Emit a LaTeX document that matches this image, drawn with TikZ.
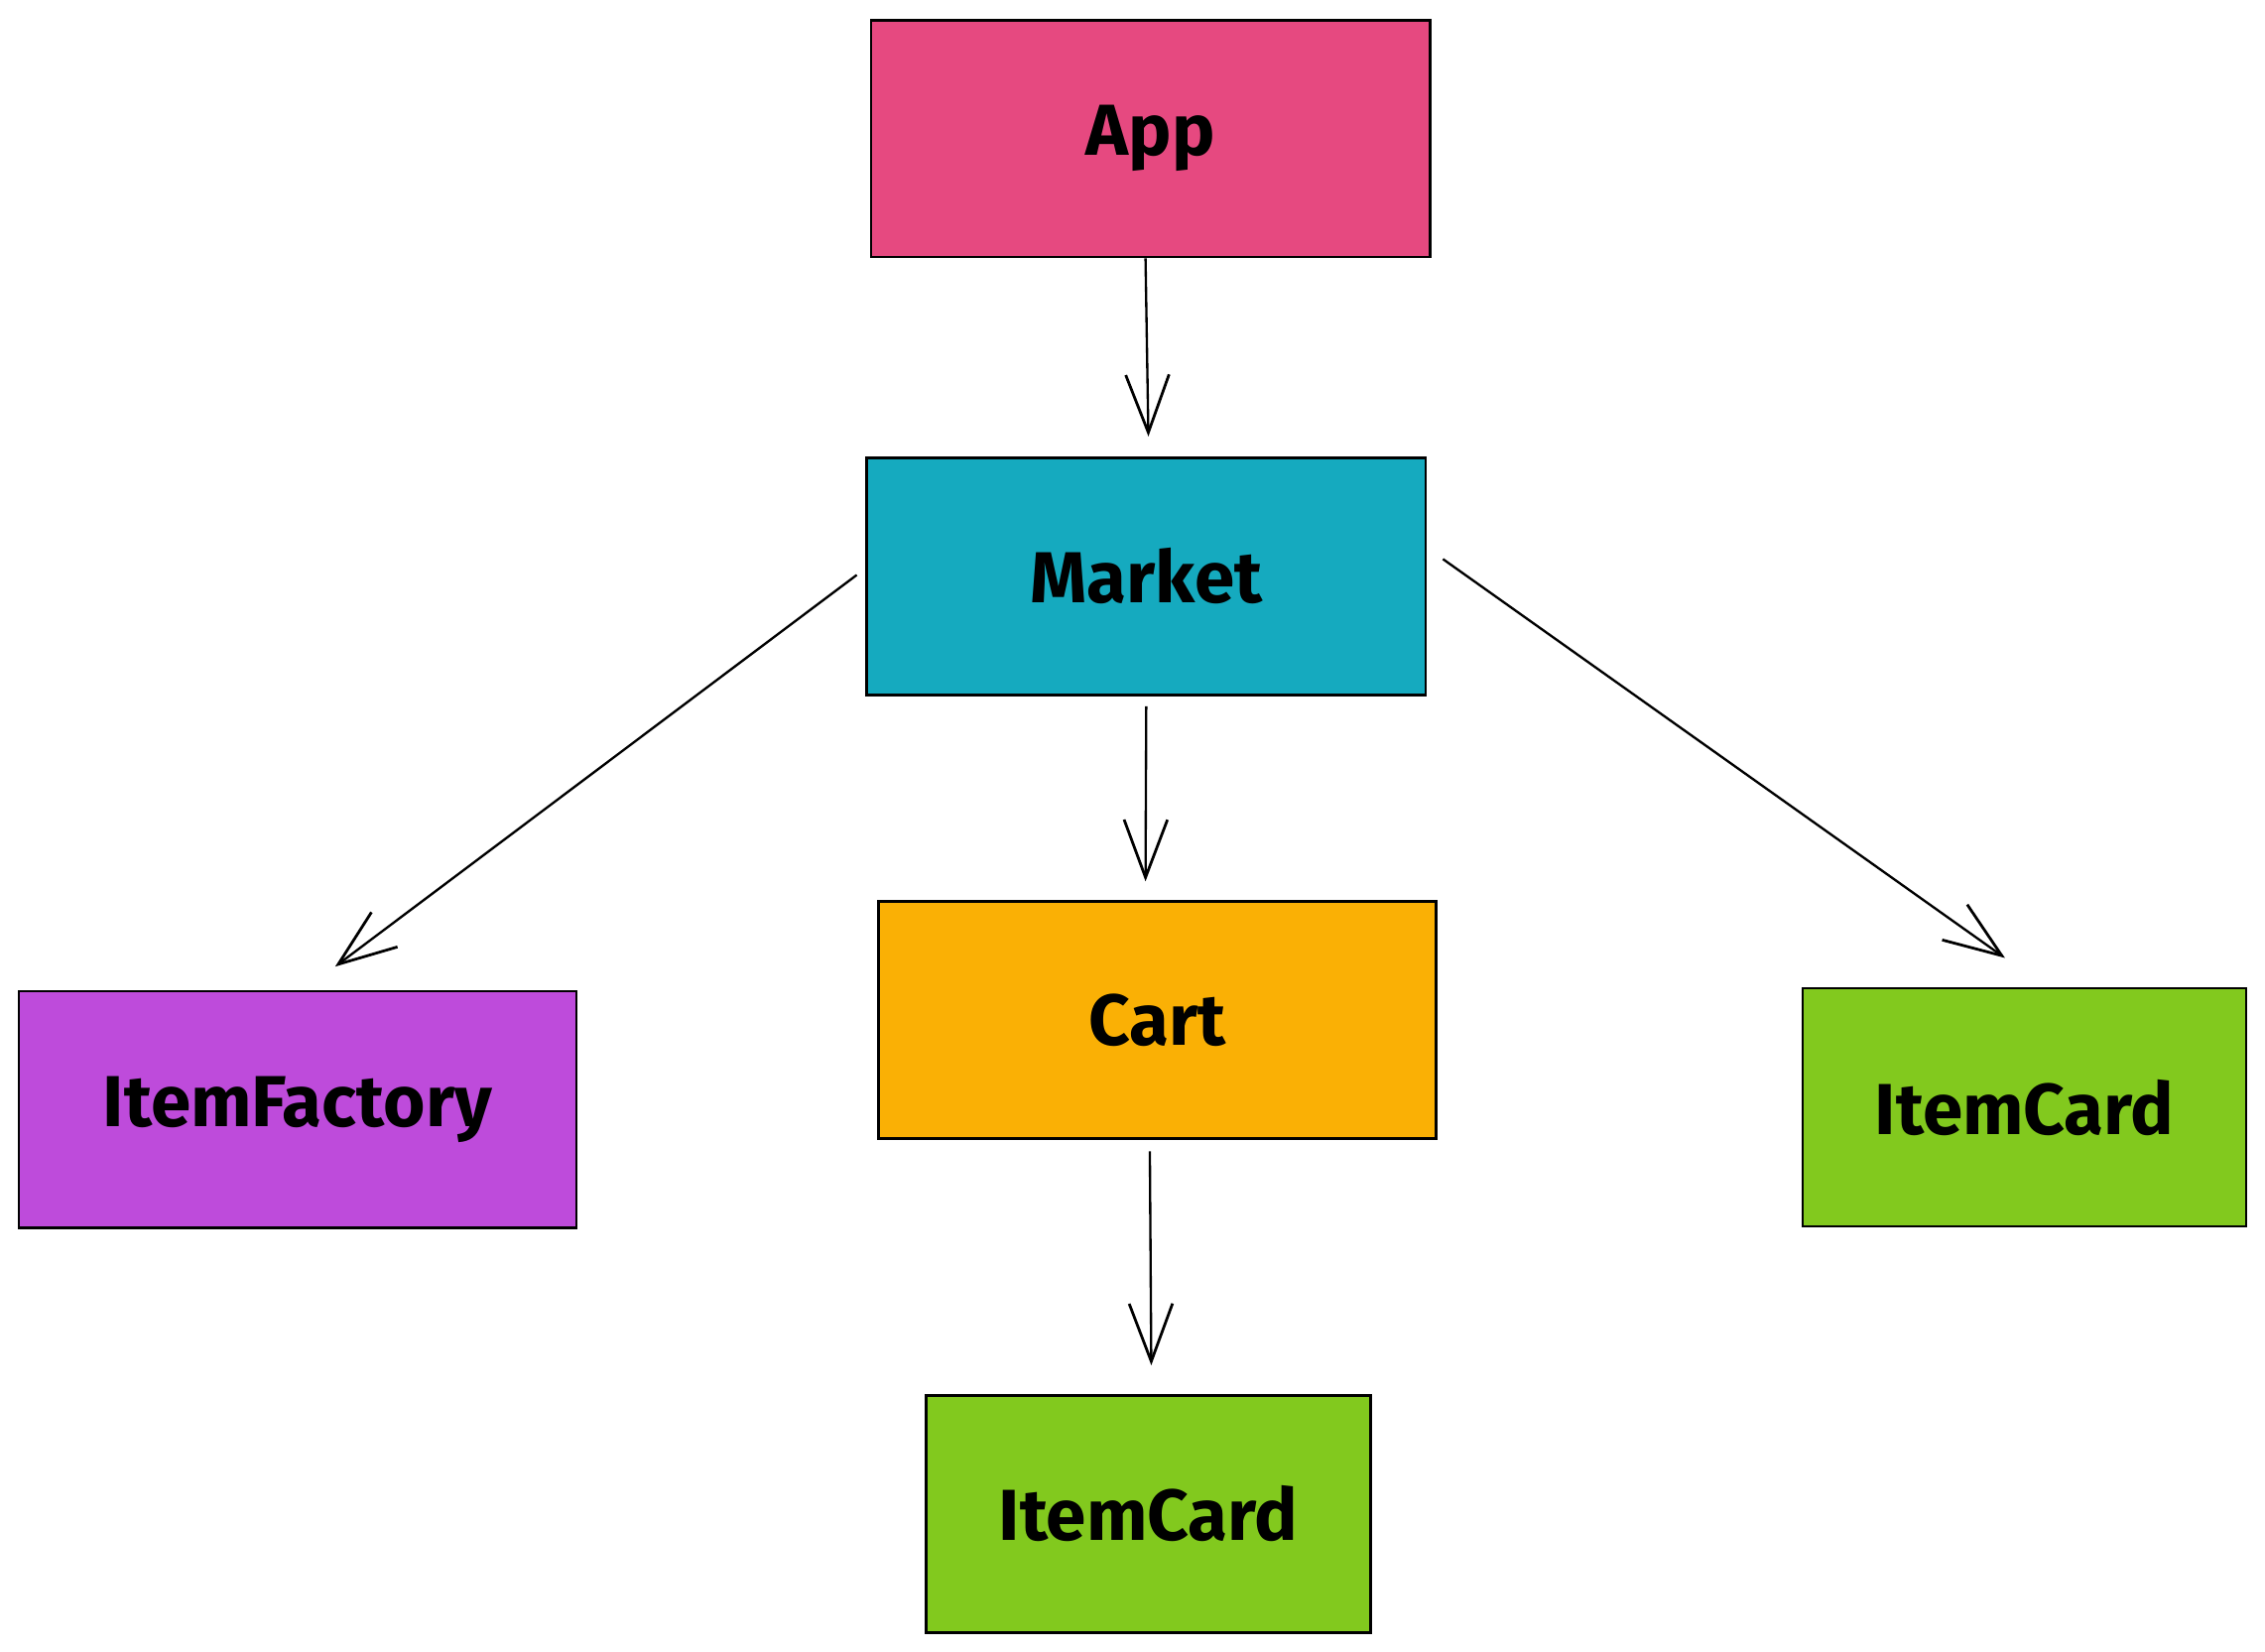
\documentclass[tikz,border=0pt]{standalone}
\usepackage{fontspec}
\setmainfont{Fira Sans}
\usetikzlibrary{arrows.meta}
\definecolor{cpink}{HTML}{E64980}
\definecolor{cteal}{HTML}{15AABF}
\definecolor{corange}{HTML}{FAB005}
\definecolor{cpurple}{HTML}{BE4BDB}
\definecolor{cgreen}{HTML}{82C91E}
\tikzset{
  box/.style={draw=black, line width=1.8pt, rectangle, inner sep=0pt,
    font=\fontsize{50}{56}\selectfont\bfseries, text=black},
  conn/.style={draw=black, line width=1.6pt,
    -{Straight Barb[length=40pt,width=30pt,line width=1.9pt]}}
}
\begin{document}
\begin{tikzpicture}[x=1pt,y=-1pt]
\useasboundingbox[fill=white] (0,0) rectangle (1568,1143);
\node[box, fill=cpink, minimum width=387pt, minimum height=164pt] (app) at (796.5,96) {App};
\node[box, fill=cteal, minimum width=387pt, minimum height=164pt] (market) at (793.5,399) {Market};
\node[box, fill=corange, minimum width=386pt, minimum height=164pt] (cart) at (801,706) {Cart};
\node[box, fill=cpurple, minimum width=386pt, minimum height=164pt] (factory) at (206,768) {ItemFactory};
\node[box, fill=cgreen, minimum width=307pt, minimum height=165pt] (cardr) at (1401.5,766.5) {ItemCard};
\node[box, fill=cgreen, minimum width=308pt, minimum height=164pt] (cardb) at (795,1048) {ItemCard};
\draw[conn] ([shift={(-3.5,0)}]app.south) -- ([shift={(1.5,-14)}]market.north);
\draw[conn] ([shift={(0,7)}]market.south) -- ([shift={(-8,-13)}]cart.north);
\draw[conn] ([shift={(-6,-1)}]market.west) -- ([shift={(26,-16)}]factory.north);
\draw[conn] ([shift={(11,-12)}]market.east) -- ([shift={(-13.5,-20)}]cardr.north);
\draw[conn] ([shift={(-5,8)}]cart.south) -- ([shift={(2,-20)}]cardb.north);
\end{tikzpicture}
\end{document}
